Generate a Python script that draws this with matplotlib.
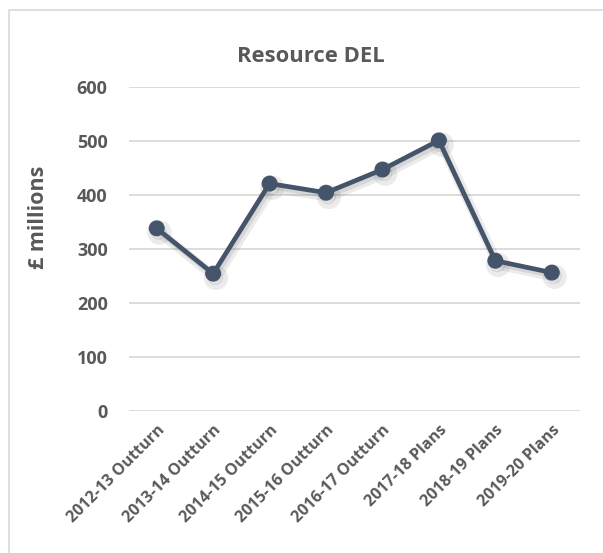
import matplotlib
matplotlib.use("Agg")
import matplotlib.pyplot as plt
import matplotlib.patheffects as pe
from matplotlib.lines import Line2D

# data
categories = [
    "2012-13 Outturn",
    "2013-14 Outturn",
    "2014-15 Outturn",
    "2015-16 Outturn",
    "2016-17 Outturn",
    "2017-18 Plans",
    "2018-19 Plans",
    "2019-20 Plans",
]
resource_del = [338, 254, 421, 404, 447, 501, 278, 256]
y_ticks = [0, 100, 200, 300, 400, 500, 600]

TEXT = "#595959"
GRID = "#D9D9D9"
LINE = "#44546A"

plt.rcParams["font.family"] = ["Open Sans", "DejaVu Sans"]
plt.rcParams["font.weight"] = "bold"

fig = plt.figure(figsize=(6.03, 5.53), dpi=100)
W, H = 603, 553
left, right, top, bottom = 128.5, 580, 87, 410.7
ax = fig.add_axes([left / W, 1 - bottom / H, (right - left) / W, (bottom - top) / H])

x = range(len(categories))
shadow = [pe.SimpleLineShadow(offset=(2, -3), shadow_color="#606060", alpha=0.12, linewidth=7),
          pe.SimpleLineShadow(offset=(1.5, -2.5), shadow_color="#606060", alpha=0.15),
          pe.Normal()]
ax.plot(x, resource_del, color=LINE, linewidth=3.4, marker="o", markersize=10.5,
        solid_joinstyle="round", zorder=3, path_effects=shadow)

ax.set_xlim(-0.5, len(categories) - 0.5)
ax.set_ylim(0, 600)
ax.set_yticks(y_ticks)
ax.set_yticklabels([str(v) for v in y_ticks], fontsize=13, color=TEXT, fontweight="bold")
ax.set_xticks(list(x))
ax.set_xticklabels(categories, rotation=45, ha="right", rotation_mode="anchor",
                   fontsize=11.6, color=TEXT, fontweight="bold")
ax.tick_params(axis="both", length=0)
ax.tick_params(axis="y", pad=15)
ax.tick_params(axis="x", pad=8)
ax.grid(axis="y", color=GRID, linewidth=1.3)
ax.set_axisbelow(True)
for s in ax.spines.values():
    s.set_visible(False)

fig.text(311 / W, 1 - 57 / H, "Resource DEL", ha="center", va="center",
         fontsize=15.8, color=TEXT, fontweight="bold")
fig.text(38 / W, 1 - 217 / H, "£ millions", ha="center", va="center", rotation=90,
         fontsize=15.5, color=TEXT, fontweight="bold")

# chart frame (top and left edges visible)
fig.add_artist(Line2D([8.5 / W, 8.5 / W, 1.0], [0.0, 1 - 9.5 / H, 1 - 9.5 / H],
                      transform=fig.transFigure, color="#D9D9D9", linewidth=1.2))

fig.savefig("out.png", dpi=100)
